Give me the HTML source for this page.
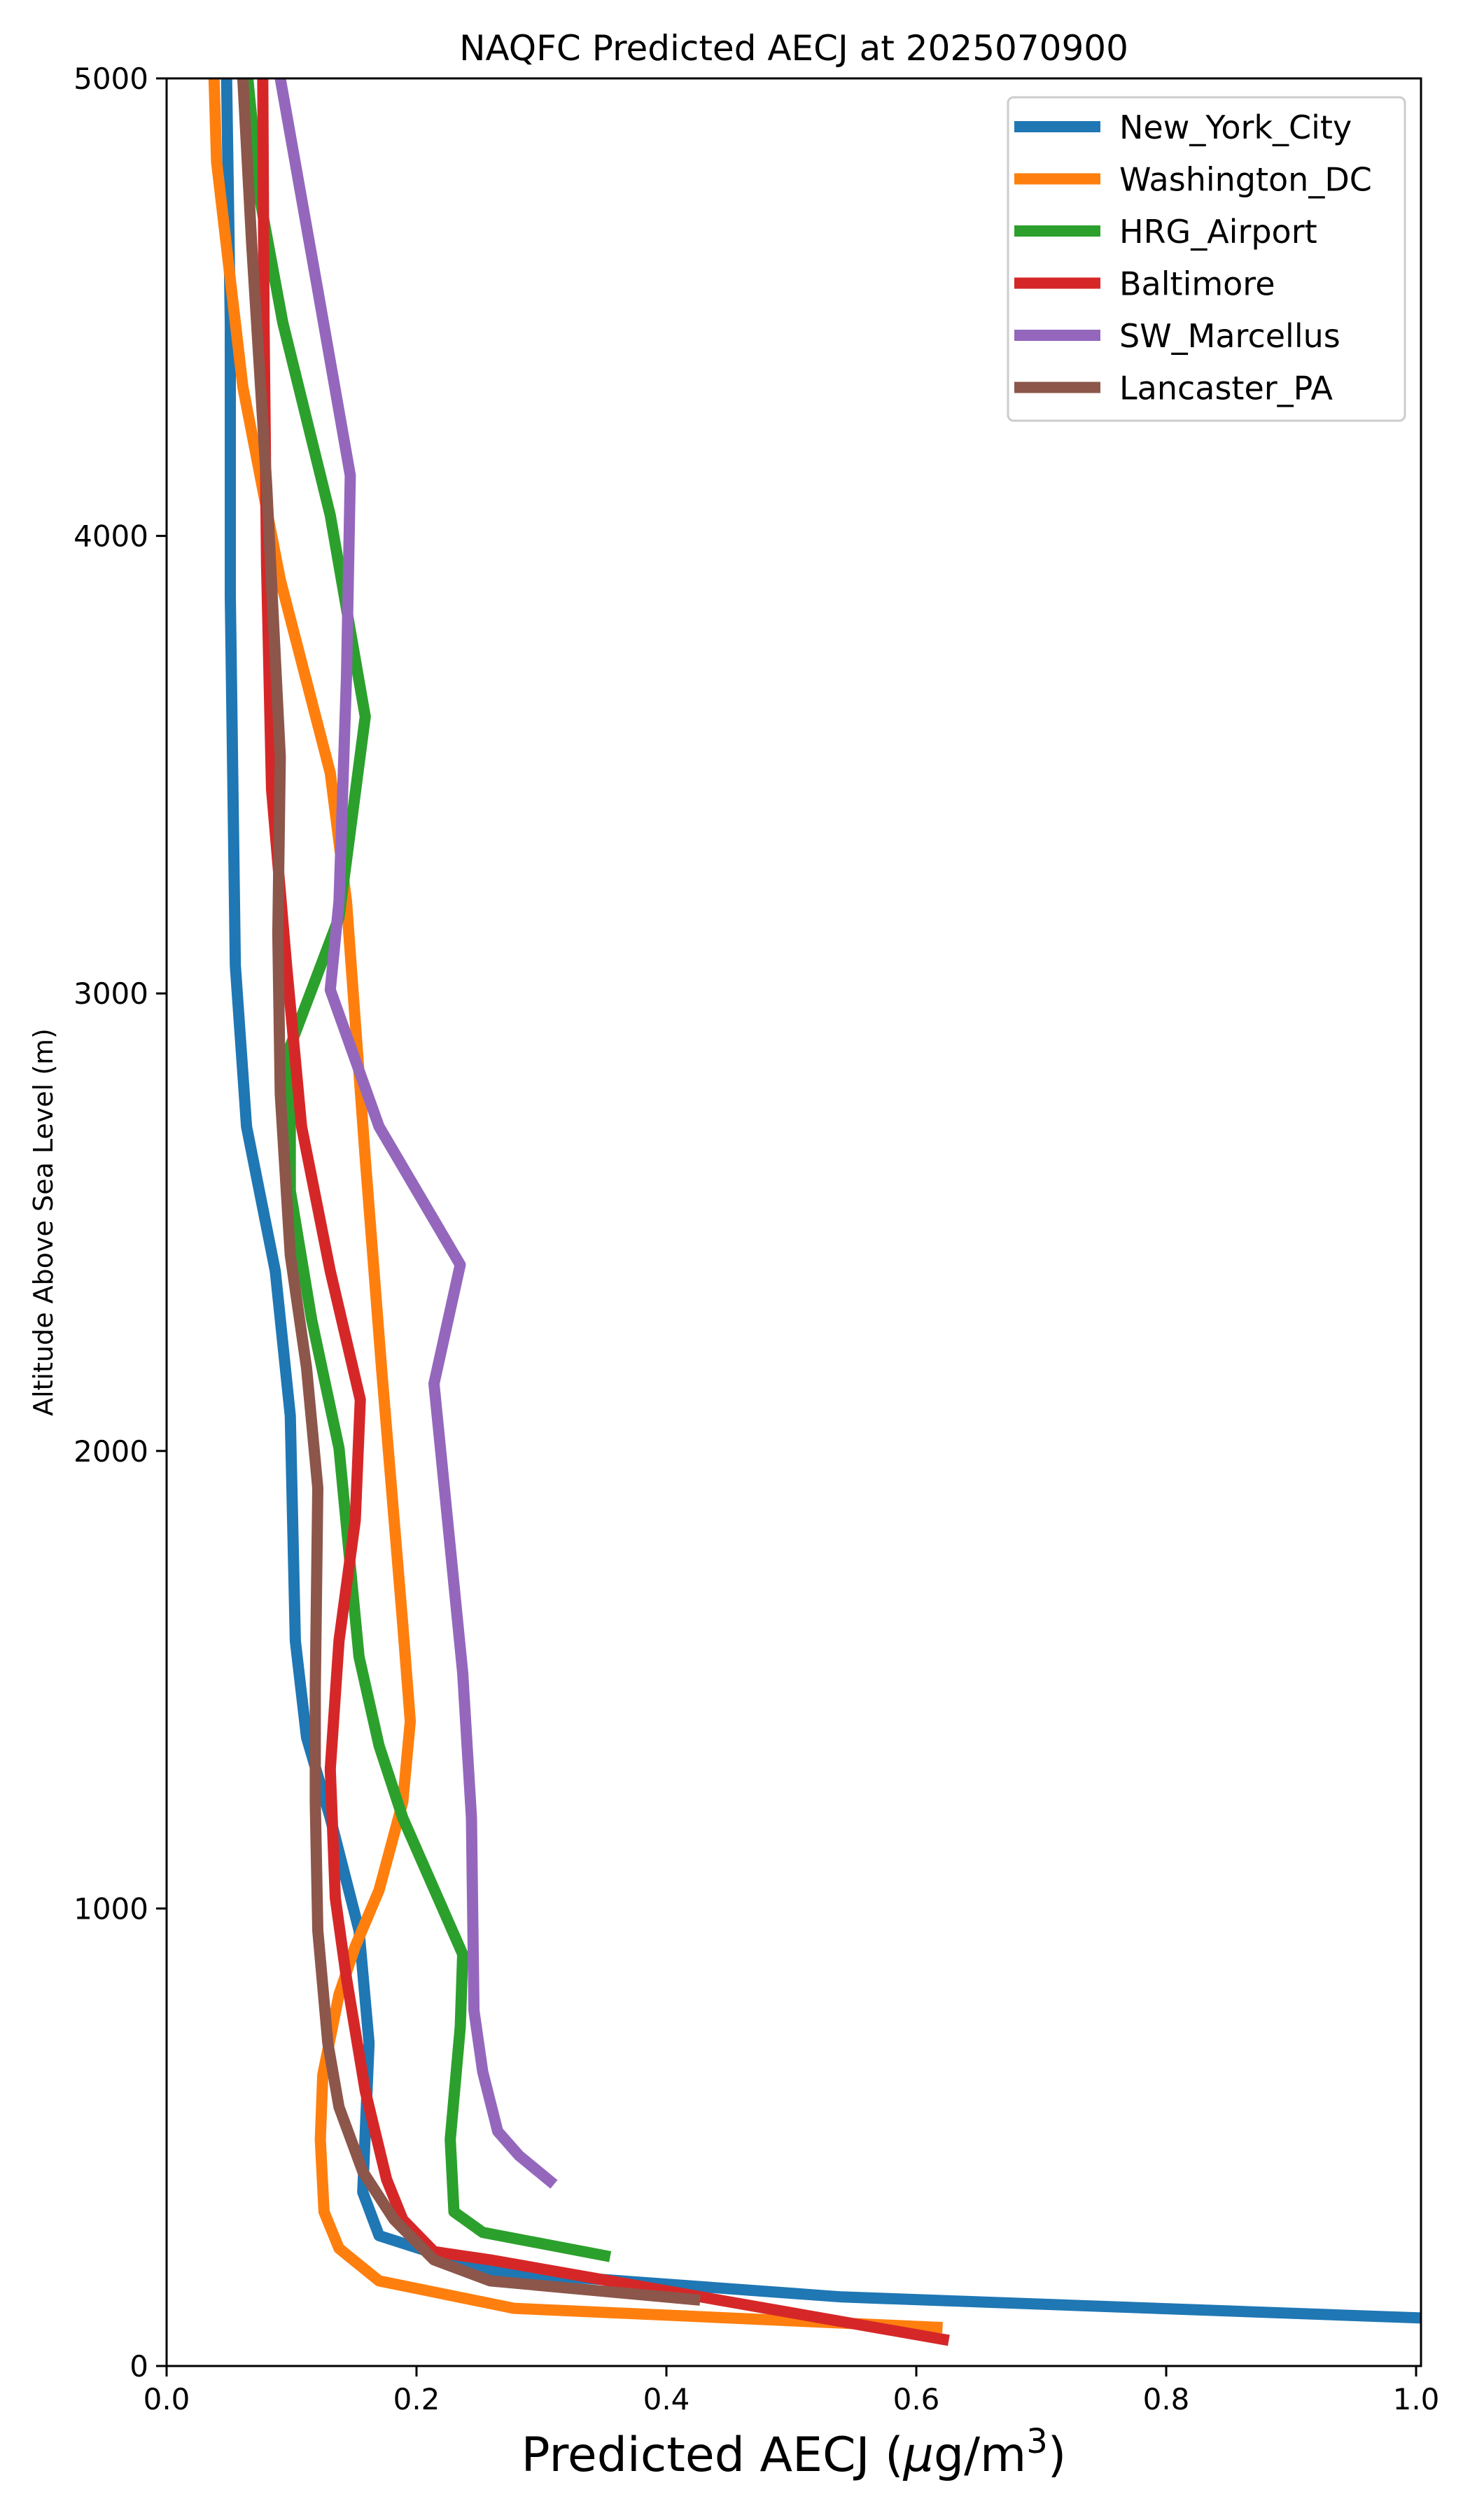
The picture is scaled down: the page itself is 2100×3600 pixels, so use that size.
<!DOCTYPE html>
<html><head><meta charset="utf-8"><style>
html,body{margin:0;padding:0;background:#fff;}
svg{display:block;font-family:"DejaVu Sans","Liberation Sans",sans-serif;}
</style></head><body>
<svg id="chart" width="2100" height="3600" viewBox="0 0 2100 3600" xmlns="http://www.w3.org/2000/svg">
<defs><clipPath id="plotclip"><rect x="238" y="112" width="1792" height="3268"/></clipPath></defs>
<rect width="2100" height="3600" fill="#fff"/>
<text x="1134" y="86" font-size="50" text-anchor="middle">NAQFC Predicted AECJ at 2025070900</text>
<g id="series" clip-path="url(#plotclip)"></g>
<g id="axes"></g>
<text x="1134" y="3530" font-size="68" text-anchor="middle">Predicted AECJ (<tspan font-style="italic">μ</tspan>g/m<tspan dy="-26" font-size="48">3</tspan><tspan dy="26">)</tspan></text>
<text x="0" y="0" font-size="38" text-anchor="middle" transform="translate(75,1746) rotate(-90)">Altitude Above Sea Level (m)</text>
<g id="legend"></g>
</svg>
<script>
const seriesNames = ["New_York_City","Washington_DC","HRG_Airport","Baltimore","SW_Marcellus","Lancaster_PA"];
const seriesColors = ["#1f77b4","#ff7f0e","#2ca02c","#d62728","#9467bd","#8c564b"];
const nycX = [1.004,0.54,0.259,0.17,0.157,0.162,0.154,0.131,0.112,0.103,0.099,0.087,0.064,0.055,0.051,0.051,0.048];
const nycAlt = [105,151,207,285,380,706,952,1198,1374,1585,2077,2393,2709,3061,3869,4466,5000];
const dcX = [0.621,0.278,0.17,0.138,0.126,0.123,0.125,0.138,0.151,0.17,0.189,0.195,0.189,0.172,0.159,0.144,0.131,0.091,0.061,0.04,0.038];
const dcAlt = [84,126,186,257,337,495,636,812,917,1040,1233,1409,1620,2182,2639,3201,3482,3904,4326,4818,5000];
const hrgX = [0.355,0.253,0.23,0.227,0.235,0.237,0.189,0.17,0.154,0.138,0.116,0.099,0.099,0.138,0.159,0.131,0.093,0.074,0.065];
const hrgAlt = [239,292,337,495,741,900,1198,1356,1550,2006,2288,2569,2885,3166,3605,4045,4466,4747,5000];
const balX = [0.626,0.259,0.214,0.189,0.176,0.159,0.144,0.135,0.131,0.138,0.151,0.155,0.131,0.108,0.096,0.084,0.08,0.078,0.077];
const balAlt = [56,232,250,320,408,601,847,1023,1304,1585,1848,2112,2393,2709,3061,3447,3939,4466,5000];
const swmX = [0.31,0.282,0.265,0.253,0.246,0.244,0.237,0.23,0.214,0.235,0.17,0.131,0.138,0.144,0.147,0.121,0.091];
const swmAlt = [397,460,513,643,777,1198,1515,1708,2147,2407,2709,3008,3201,3693,4132,4537,5000];
const lanX = [0.427,0.259,0.214,0.182,0.157,0.138,0.129,0.121,0.119,0.119,0.121,0.112,0.099,0.091,0.089,0.091,0.08,0.068,0.061];
const lanAlt = [144,186,232,320,425,566,706,952,1233,1479,1919,2182,2428,2780,3131,3517,4115,4642,5000];
const xTicks = [0,0.2,0.4,0.6,0.8,1.0];
const xTickLabels = ["0.0","0.2","0.4","0.6","0.8","1.0"];
const yTicks = [0,1000,2000,3000,4000,5000];
const yTickLabels = ["0","1000","2000","3000","4000","5000"];

const NS="http://www.w3.org/2000/svg";
const X0=238, X1=2023, XR=2030, Y0=3380, Y1=112;
function sx(v){return X0+v*(X1-X0);}
function sy(a){return Y0-(a/5000)*(Y0-Y1);}
function mk(tag,attrs,parent){const e=document.createElementNS(NS,tag);for(const k in attrs)e.setAttribute(k,attrs[k]);parent.appendChild(e);return e;}

const allX=[nycX,dcX,hrgX,balX,swmX,lanX];
const allA=[nycAlt,dcAlt,hrgAlt,balAlt,swmAlt,lanAlt];
const sg=document.getElementById('series');
for(let i=0;i<6;i++){
  const pts=allX[i].map((v,j)=>sx(v).toFixed(1)+","+sy(allA[i][j]).toFixed(1)).join(" ");
  const p=mk('polyline',{points:pts,fill:'none',stroke:seriesColors[i],'stroke-width':16,'stroke-linejoin':'round'},sg);
  
  
}
const ag=document.getElementById('axes');
const frame=mk('rect',{x:X0,y:Y1,width:XR-X0,height:Y0-Y1,fill:'none',stroke:'#000','stroke-width':3},ag);


xTicks.forEach((v,i)=>{
  const t=mk('line',{x1:sx(v),x2:sx(v),y1:Y0,y2:Y0+15,stroke:'#000','stroke-width':3},ag);
  
  
  const l=mk('text',{x:sx(v),y:Y0+62,'font-size':42,'text-anchor':'middle'},ag);
  
  
  l.textContent=xTickLabels[i];
});
yTicks.forEach((v,i)=>{
  const t=mk('line',{x1:X0-15,x2:X0,y1:sy(v),y2:sy(v),stroke:'#000','stroke-width':3},ag);
  
  
  const l=mk('text',{x:X0-26,y:sy(v)+15,'font-size':42,'text-anchor':'end'},ag);
  
  
  l.textContent=yTickLabels[i];
});
const lg=document.getElementById('legend');
const box=mk('rect',{x:1440,y:139,width:567,height:462,rx:8,fill:'#fff','fill-opacity':0.8,stroke:'#ccc','stroke-width':3},lg);


for(let i=0;i<6;i++){
  const y=181+i*74.5;
  const sw=mk('line',{x1:1449,x2:1572,y1:y,y2:y,stroke:seriesColors[i],'stroke-width':16},lg);
  
  
  const tx=mk('text',{x:1599,y:y+17,'font-size':46},lg);
  
  
  tx.textContent=seriesNames[i];
}
</script>
</body></html>
